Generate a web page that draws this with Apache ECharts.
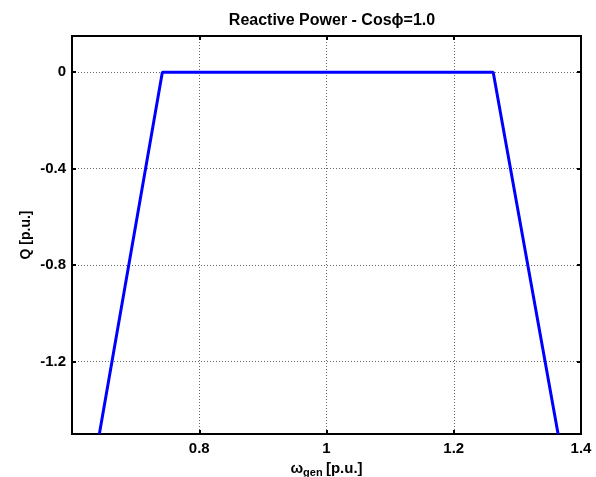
<!DOCTYPE html>
<html><head><meta charset="utf-8">
<script src="https://cdn.jsdelivr.net/npm/echarts@6/dist/echarts.min.js"></script>
<style>html,body{margin:0;padding:0;background:#fff}#c{width:596px;height:477px}</style>
</head><body><div id="c"></div>
<script>
const omega = [0.643, 0.742, 1.262, 1.364];
const Q = [-1.5, 0, 0, -1.5];
const xTicks = [0.8, 1.0, 1.2, 1.4];
const yTicks = [0, -0.4, -0.8, -1.2];

const chart = echarts.init(document.getElementById('c'), null, {renderer: 'canvas'});
const font = 'Liberation Sans, Arial, sans-serif';
const gridSplit = {show: true, lineStyle: {color: '#666', type: [1, 2], width: 1}};
const tickIn = {show: true, inside: true, length: 4, lineStyle: {color: '#000', width: 2}};
const yTickIn = Object.assign({}, tickIn, {customValues: yTicks});
chart.setOption({
  animation: false,
  title: {text: 'Reactive Power - Cos\u03d5=1.0', left: 327, top: 8, textAlign: 'center',
    textStyle: {fontFamily: font, fontWeight: 'bold', fontSize: 16, color: '#000'}},
  grid: {left: 72, right: 15, top: 36, bottom: 43, show: true, borderColor: '#000', borderWidth: 2,
    backgroundColor: '#fff', outerBoundsMode: 'none', containLabel: false},
  xAxis: [{
    type: 'value', min: 0.6, max: 1.4, interval: 0.2, position: 'bottom',
    axisLine: {show: true, onZero: false, lineStyle: {color: '#000', width: 2}},
    axisTick: tickIn, splitLine: gridSplit,
    axisLabel: {fontFamily: font, fontWeight: 'bold', fontSize: 15, color: '#000', margin: 7,
      formatter: v => xTicks.some(t => Math.abs(t - v) < 1e-6) ? String(+v.toFixed(1)) : ''},
    name: '{w|\u03c9}{s|gen} {w|[p.u.]}', nameLocation: 'middle', nameGap: 25, nameMoveOverlap: false,
    nameTextStyle: {rich: {
      w: {fontFamily: font, fontWeight: 'bold', fontSize: 15, color: '#000'},
      s: {fontFamily: font, fontWeight: 'bold', fontSize: 11, color: '#000', padding: [8,0,0,0]}
    }}
  }, {
    type: 'value', min: 0.6, max: 1.4, interval: 0.2, position: 'top',
    axisLine: {show: true, onZero: false, lineStyle: {color: '#000', width: 2}},
    axisTick: tickIn, splitLine: {show: false}, axisLabel: {show: false}
  }],
  yAxis: [{
    type: 'value', min: -1.5, max: 0.15, position: 'left',
    axisLine: {show: true, onZero: false, lineStyle: {color: '#000', width: 2}},
    axisTick: yTickIn, splitLine: gridSplit,
    axisLabel: {fontFamily: font, fontWeight: 'bold', fontSize: 15, color: '#000', margin: 6,
      customValues: yTicks, formatter: v => v === 0 ? '0' : String(+v.toFixed(1))},
    name: 'Q [p.u.]', nameLocation: 'middle', nameGap: 39, nameMoveOverlap: false,
    nameTextStyle: {fontFamily: font, fontWeight: 'bold', fontSize: 14, color: '#000'}
  }, {
    type: 'value', min: -1.5, max: 0.15, position: 'right',
    axisLine: {show: true, onZero: false, lineStyle: {color: '#000', width: 2}},
    axisTick: yTickIn, splitLine: {show: false}, axisLabel: {show: false}
  }],
  series: [{
    type: 'line', data: omega.map((x, i) => [x, Q[i]]), symbol: 'none',
    lineStyle: {color: '#0000ff', width: 3}, clip: true
  }]
});
</script></body></html>
